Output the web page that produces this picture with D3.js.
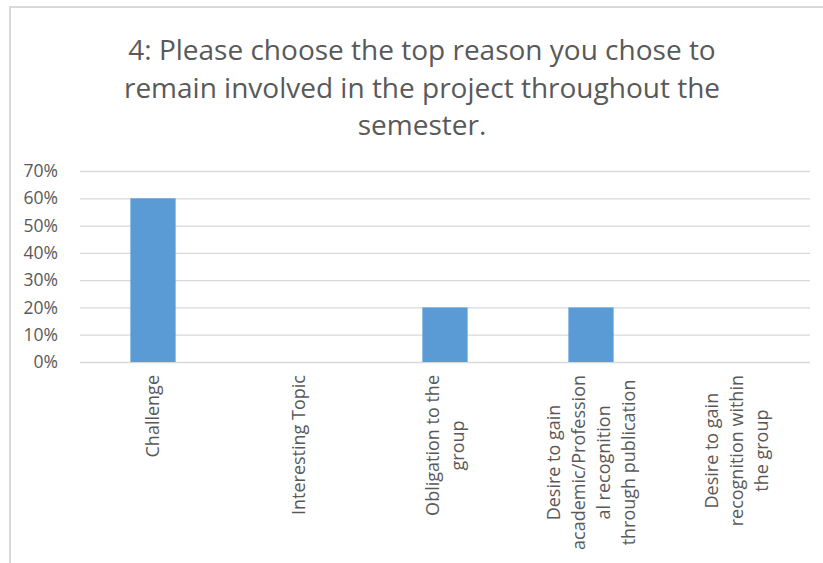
<!DOCTYPE html>
<html>
<head>
<meta charset="utf-8">
<script src="https://cdn.jsdelivr.net/npm/d3@7"></script>
<style>
  html, body { margin: 0; padding: 0; background: #fff; }
  text { font-family: "Open Sans", sans-serif; fill: #595959; }
</style>
</head>
<body>
<div id="chart"></div>
<script>
// Chart data
const categories = [
    ['Challenge'],
    ['Interesting Topic'],
    ['Obligation to the', 'group'],
    ['Desire to gain', 'academic/Profession', 'al recognition', 'through publication'],
    ['Desire to gain', 'recognition within', 'the group']
];
const values = [0.6, 0, 0.2, 0.2, 0];
const yTicks = [0, 0.1, 0.2, 0.3, 0.4, 0.5, 0.6, 0.7];
const titleLines = [
    '4: Please choose the top reason you chose to',
    'remain involved in the project throughout the',
    'semester.'
];

const width = 823, height = 563;
const plot = { left: 80, right: 810, top: 171, bottom: 362 };

const svg = d3.select('#chart').append('svg')
    .attr('width', width)
    .attr('height', height);

// Chart area border (only left and top edges are visible in the crop)
svg.append('rect')
    .attr('x', 10).attr('y', 7)
    .attr('width', width + 20).attr('height', height + 20)
    .attr('fill', 'none')
    .attr('stroke', '#d9d9d9')
    .attr('stroke-width', 2);

// Title, centred over the chart
svg.append('g').selectAll('text')
    .data(titleLines)
    .enter()
    .append('text')
    .attr('x', 422)
    .attr('y', (d, i) => 60 + i * 37.5)
    .attr('text-anchor', 'middle')
    .attr('font-size', 28)
    .text(d => d);

const x = d3.scaleBand()
    .domain(d3.range(categories.length))
    .range([plot.left, plot.right])
    .paddingInner(0.69)
    .paddingOuter(0.345);

const y = d3.scaleLinear()
    .domain([0, 0.7])
    .range([plot.bottom, plot.top]);

// Horizontal gridlines
svg.append('g')
    .attr('transform', `translate(${plot.left},0)`)
    .call(d3.axisLeft(y).tickValues(yTicks).tickSize(-(plot.right - plot.left)).tickFormat(''))
    .call(g => g.select('.domain').remove())
    .call(g => g.selectAll('line').attr('stroke', '#d9d9d9').attr('stroke-width', 1.3));

// Y tick labels
svg.append('g')
    .attr('transform', 'translate(61,0)')
    .call(d3.axisLeft(y).tickValues(yTicks).tickSize(0).tickFormat(d3.format('.0%')))
    .call(g => g.select('.domain').remove())
    .call(g => g.selectAll('text')
        .attr('font-size', 17.5)
        .attr('fill', '#595959')
        .attr('font-family', '"Open Sans", sans-serif'));

// Bars
svg.append('g').selectAll('rect')
    .data(values)
    .enter()
    .append('rect')
    .attr('x', (d, i) => x(i))
    .attr('y', d => y(d))
    .attr('width', x.bandwidth())
    .attr('height', d => y(0) - y(d))
    .attr('fill', '#5b9bd5');

// Category labels, rotated -90 and centred on the longest line
const labelTop = 375, lineGap = 25, labelSize = 18;
const labels = svg.append('g');
categories.forEach((lines, i) => {
    const cx = x(i) + x.bandwidth() / 2;
    const g = labels.append('g');
    const texts = g.selectAll('text')
        .data(lines)
        .enter()
        .append('text')
        .attr('text-anchor', 'middle')
        .attr('font-size', labelSize)
        .text(d => d);
    // measure the longest line to find the block's centre along the rotated axis
    let maxW = 0;
    texts.each(function () { maxW = Math.max(maxW, this.getComputedTextLength()); });
    const cy = labelTop + maxW / 2;
    const n = lines.length;
    texts.attr('transform', (d, j) => {
        const off = (j - (n - 1) / 2) * lineGap;
        return `translate(${cx + off + 6},${cy}) rotate(-90)`;
    });
});
</script>
</body>
</html>
